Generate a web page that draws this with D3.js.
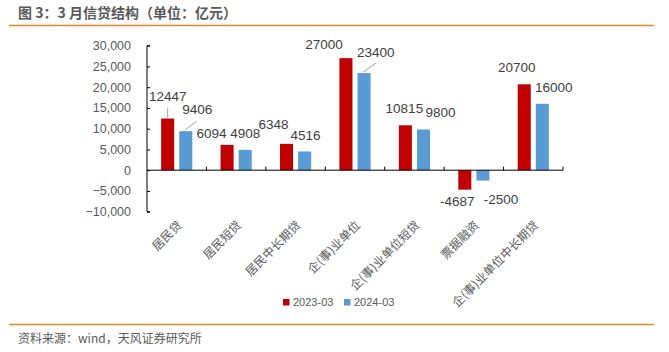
<!DOCTYPE html>
<html><head><meta charset="utf-8">
<script src="https://cdn.jsdelivr.net/npm/d3@7"></script>
<style>body{margin:0;background:#fff;}svg{display:block;}</style>
</head><body><svg id="c" width="669" height="352"></svg>
<script>
const categories = ["居民贷","居民短贷","居民中长期贷","企(事)业单位","企(事)业单位短贷","票据融资","企(事)业单位中长期贷"];
const series2023 = [12447, 6094, 6348, 27000, 10815, -4687, 20700];
const series2024 = [9406, 4908, 4516, 23400, 9800, -2500, 16000];
const seriesNames = ["2023-03","2024-03"];
const yTicks = [-10000,-5000,0,5000,10000,15000,20000,25000,30000];
const colors = ["#C00000","#5B9BD5"];
// label offsets (Excel hand-placed labels): [dx, dy] from bar end center
const lab23 = [[0,-18],[-15.5,-7],[-13,-15],[-22,-9],[-1,-12],[-7.6,16.2],[-7.5,-12.7]];
const lab24 = [[11.5,-17.3],[0,-12],[1,-11.6],[11.6,-16.5],[17,-12.3],[18,23.3],[11.5,-12]];

const svg = d3.select("#c");
const fontNum = "'Liberation Sans', Arial, sans-serif";
const fontCJK = "'Noto Sans CJK SC', 'Liberation Sans', sans-serif";

svg.append("text").attr("x",18).attr("y",18).attr("font-family",fontCJK)
  .attr("font-size",14).attr("font-weight","bold").attr("fill","#595959")
  .text("图 3：3 月信贷结构（单位：亿元）");
svg.append("line").attr("x1",9).attr("x2",654).attr("y1",25.5).attr("y2",25.5)
  .attr("stroke","#ED8427").attr("stroke-width",1.3);
svg.append("line").attr("x1",9).attr("x2",654).attr("y1",324.5).attr("y2",324.5)
  .attr("stroke","#ED8427").attr("stroke-width",1.3);
svg.append("text").attr("x",18).attr("y",343).attr("font-family",fontCJK)
  .attr("font-size",12).attr("fill","#595959").text("资料来源：wind，天风证券研究所");

const x0 = 147, x1 = 563;
const x = d3.scaleBand().domain(categories).range([x0,x1]).paddingInner(0).paddingOuter(0);
const y = d3.scaleLinear().domain([-10000,30000]).range([211.7,45.7]);
const sub = d3.scaleBand().domain([0,1]).range([0,x.bandwidth()]).paddingInner(0.28).paddingOuter(0.78);

const g = svg.append("g");
// y axis (ticks inside)
const yAxis = d3.axisLeft(y).tickValues(yTicks).tickSize(-3).tickFormat(d3.format(","));
const ya = g.append("g").attr("transform",`translate(${x0},0)`).call(yAxis);
ya.select(".domain").attr("stroke","#000").attr("d",`M3,${y(-10000)}H0V${y(30000)}H3`);
ya.selectAll(".tick line").attr("stroke","#000");
ya.selectAll(".tick text").attr("font-family",fontNum).attr("font-size",12.5).attr("fill","#595959").attr("x",-16);

// bars
const data = [series2023, series2024];
data.forEach((s,si)=>{
  g.selectAll(null).data(s).enter().append("rect")
    .attr("x",(d,i)=>x(categories[i])+sub(si))
    .attr("width",sub.bandwidth())
    .attr("y",d=>y(Math.max(0,d)))
    .attr("height",d=>Math.abs(y(d)-y(0)))
    .attr("fill",colors[si]);
});

// x axis line at 0 with ticks upward
g.append("line").attr("x1",x0).attr("x2",x1).attr("y1",y(0)).attr("y2",y(0)).attr("stroke","#000").attr("stroke-width",1);
categories.forEach((c,i)=>{
  const xx = x(c)+x.bandwidth();
  g.append("line").attr("x1",xx).attr("x2",xx).attr("y1",y(0)).attr("y2",y(0)-3.5).attr("stroke","#000");
});

// category labels
categories.forEach((c,i)=>{
  const cx = x(c)+x.bandwidth()/2+3;
  g.append("text").attr("transform",`translate(${cx},223) rotate(-45)`)
    .attr("text-anchor","end").attr("dy","0.35em")
    .attr("font-family",fontCJK).attr("font-size",12).attr("fill","#595959").text(c);
});

// data labels
const labs = [lab23, lab24];
data.forEach((s,si)=>{
  s.forEach((d,i)=>{
    const bx = x(categories[i])+sub(si)+sub.bandwidth()/2;
    const by = y(d);
    const [dx,dy] = labs[si][i];
    g.append("text").attr("x",bx+dx).attr("y",by+dy)
      .attr("text-anchor","middle").attr("font-family",fontNum).attr("font-size",13.5)
      .attr("fill","#404040").text(d);
  });
});
// leader lines: [series, category, x1off, y1off, x2off, y2off]
const leaders = [[0,0,0,-1,0,-11],[1,0,-1,-1,11,-10],[1,3,-1,-1,12,-10]];
leaders.forEach(([si,i,ax,ay,bx2,by2])=>{
  const bx = x(categories[i])+sub(si)+sub.bandwidth()/2;
  const by = y(data[si][i]);
  g.append("line").attr("x1",bx+ax).attr("y1",by+ay).attr("x2",bx+bx2).attr("y2",by+by2)
    .attr("stroke","#A6A6A6").attr("stroke-width",1);
});

// legend
const lg = svg.append("g");
seriesNames.forEach((n,i)=>{
  const lx = 283 + i*61;
  lg.append("rect").attr("x",lx).attr("y",299).attr("width",6.5).attr("height",6.5).attr("fill",colors[i]);
  lg.append("text").attr("x",lx+10).attr("y",306).attr("font-family",fontNum).attr("font-size",11)
    .attr("fill","#595959").text(n);
});
</script></body></html>
